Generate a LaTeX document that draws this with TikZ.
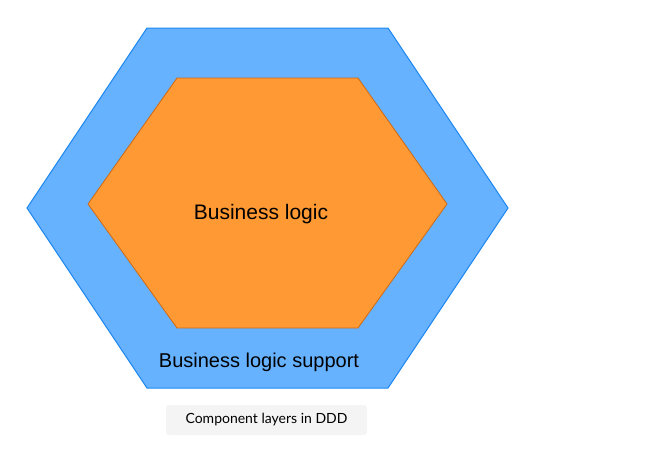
\documentclass[tikz,border=0pt]{standalone}
\usepackage{fontspec}
\setmainfont{Liberation Sans}
\newfontfamily\capfont{Lato}
\definecolor{supportblue}{HTML}{66B2FF}
\definecolor{supportline}{HTML}{1E88F0}
\definecolor{logicorange}{HTML}{FF9933}
\definecolor{logicline}{HTML}{CC6A14}
\definecolor{capgray}{HTML}{F4F4F4}
\begin{document}
\begin{tikzpicture}[x=1pt,y=-1pt]
\useasboundingbox (0,0) rectangle (658,451);
\draw [draw=supportline, fill=supportblue, line width=1pt] (147,28)--(388,28)--(508,208)--(388,388)--(147,388)--(27,208)--cycle;
\draw [draw=logicline, fill=logicorange, line width=0.8pt] (177,78)--(358,78)--(447,204)--(358,328)--(177,328)--(88,204)--cycle;
\node (logic) at (261,214) {\fontsize{21}{25}\selectfont Business logic};
\node (support) at (259,362) {\fontsize{20}{24}\selectfont Business logic support};
\node [fill=capgray, rounded corners=3pt, minimum width=201pt, minimum height=30pt] (caption) at (266.5,420) {\capfont\fontsize{14}{17}\selectfont Component layers in DDD};
\end{tikzpicture}
\end{document}
